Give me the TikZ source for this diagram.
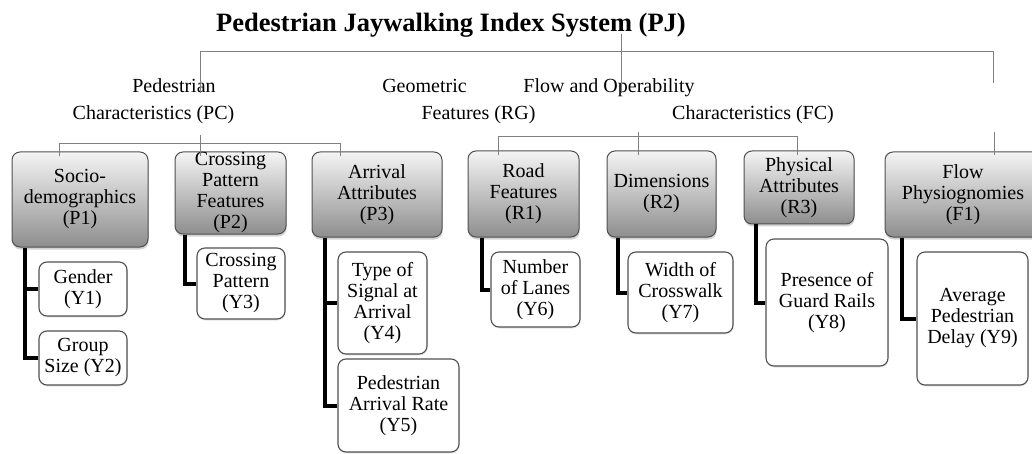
\documentclass[tikz,border=0pt]{standalone}
\usepackage{fontspec}
\setmainfont{Liberation Serif}
\usetikzlibrary{shadows}
\definecolor{linegray}{HTML}{808080}
\definecolor{boxborder}{HTML}{505050}
\definecolor{gtop}{HTML}{F4F4F4}
\definecolor{gbot}{HTML}{8E8E8E}
\tikzset{
  catbox/.style={draw=boxborder, line width=1pt, rounded corners=8pt,
    top color=gtop, bottom color=gbot, align=center, inner sep=0pt,
    font=\fontsize{20}{21}\selectfont,
    drop shadow={shadow xshift=0.5pt, shadow yshift=-2.5pt, opacity=0.35}},
  itembox/.style={draw=boxborder, line width=1.1pt, rounded corners=8pt,
    fill=white, align=center, inner sep=0pt,
    font=\fontsize{20}{21}\selectfont,
    drop shadow={shadow xshift=0.5pt, shadow yshift=-1.5pt, opacity=0.2}},
  lbl/.style={anchor=base, inner sep=0pt, font=\fontsize{20}{24}\selectfont},
  bus/.style={draw=linegray, line width=1pt},
  link/.style={draw=black, line width=4pt},
}
\begin{document}
\begin{tikzpicture}[x=1pt,y=-1pt]
\useasboundingbox (0,0) rectangle (1032,454);
\clip (0,0) rectangle (1032,454);
% title and level-2 labels
\node[lbl, font=\fontsize{26.5}{30}\selectfont\bfseries] (pj) at (451,32) {Pedestrian Jaywalking Index System (PJ)};
\node[lbl] (pcA) at (174,93) {Pedestrian};
\node[lbl] (pcB) at (153.5,120) {Characteristics (PC)};
\node[lbl] (rgA) at (424.5,93) {Geometric};
\node[lbl] (rgB) at (478.5,120) {Features (RG)};
\node[lbl] (fcA) at (609,93) {Flow and Operability};
\node[lbl] (fcB) at (753,120) {Characteristics (FC)};
% category boxes
\node[catbox, minimum width=136pt, minimum height=95pt] (P1) at (80,199.5) {Socio-\\demographics\\(P1)};
\node[catbox, minimum width=111pt, minimum height=82pt] (P2) at (230.5,193) {Crossing\\Pattern\\Features\\(P2)};
\node[catbox, minimum width=130pt, minimum height=85pt] (P3) at (377,194.5) {Arrival\\Attributes\\(P3)};
\node[catbox, minimum width=111pt, minimum height=86pt] (R1) at (523.5,194) {Road\\Features\\(R1)};
\node[catbox, minimum width=109pt, minimum height=86pt] (R2) at (661.5,194) {Dimensions\\(R2)};
\node[catbox, minimum width=110pt, minimum height=73pt] (R3) at (799,187.5) {Physical\\Attributes\\(R3)};
\node[catbox, minimum width=156pt, minimum height=85pt] (F1) at (963,194.5) {Flow\\Physiognomies\\(F1)};
% item boxes
\node[itembox, minimum width=88pt, minimum height=54pt] (Y1) at (83,289) {Gender\\(Y1)};
\node[itembox, minimum width=88pt, minimum height=54pt] (Y2) at (83,358) {Group\\Size (Y2)};
\node[itembox, minimum width=88pt, minimum height=71pt] (Y3) at (241,283.5) {Crossing\\Pattern\\(Y3)};
\node[itembox, minimum width=89pt, minimum height=102pt] (Y4) at (382.5,303) {Type of\\Signal at\\Arrival\\(Y4)};
\node[itembox, minimum width=121pt, minimum height=93pt] (Y5) at (398.5,405.5) {Pedestrian\\Arrival Rate\\(Y5)};
\node[itembox, minimum width=89pt, minimum height=75pt] (Y6) at (535.5,289.5) {Number\\of Lanes\\(Y6)};
\node[itembox, minimum width=105pt, minimum height=81pt] (Y7) at (680.5,292.5) {Width of\\Crosswalk\\(Y7)};
\node[itembox, minimum width=122pt, minimum height=127pt] (Y8) at (827,302.5) {Presence of\\Guard Rails\\(Y8)};
\node[itembox, minimum width=111pt, minimum height=133pt] (Y9) at (972.5,318.5) {Average\\Pedestrian\\Delay (Y9)};
% thick connectors
\draw[link] ([xshift=13pt]P1.south west) |- (Y1.west);
\draw[link] ([xshift=13pt]P1.south west) |- (Y2.west);
\draw[link] ([xshift=10pt]P2.south west) |- (Y3.west);
\draw[link] ([xshift=13pt]P3.south west) |- (Y4.west);
\draw[link] ([xshift=13pt]P3.south west) |- (Y5.west);
\draw[link] ([xshift=14pt]R1.south west) |- (Y6.west);
\draw[link] ([xshift=11pt]R2.south west) |- (Y7.west);
\draw[link] ([xshift=12pt]R3.south west) |- (Y8.west);
\draw[link] ([xshift=17pt]F1.south west) |- (Y9.west);
% thin bus connectors
\coordinate (pjS) at (621,34);
\coordinate (pjE) at (621,93);
\coordinate (tbL) at (200,52);
\coordinate (tbR) at (993,52);
\coordinate (pcE) at (200,93);
\coordinate (fcE) at (993,83);
\draw[bus] (pjS) -- (pjE);
\draw[bus] (pcE) -- (tbL) -- (tbR) -- (fcE);
\coordinate (pbL) at (59,144);
\coordinate (pbR) at (340,144);
\coordinate (pcS) at (200,135);
\draw[bus] ([yshift=-5pt]P1.north -| pbL) |- (pbR) -- ([yshift=-5pt]P3.north -| pbR);
\draw[bus] (pcS) -- ([yshift=-5pt]P2.north -| pcS);
\coordinate (rbL) at (498,137);
\coordinate (rbR) at (797,137);
\coordinate (rgS) at (638,132);
\draw[bus] ([yshift=-5pt]R1.north -| rbL) |- (rbR) -- ([yshift=-5pt]R3.north -| rbR);
\draw[bus] (rgS) -- ([yshift=-5pt]R2.north -| rgS);
\coordinate (fS) at (994,132);
\draw[bus] (fS) -- ([yshift=-4pt]F1.north -| fS);
\end{tikzpicture}
\end{document}
